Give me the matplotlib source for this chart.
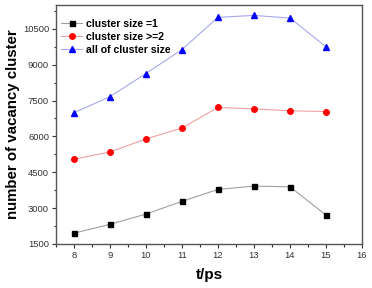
import matplotlib
matplotlib.use('Agg')
import matplotlib.pyplot as plt
from matplotlib.ticker import MultipleLocator

t_ps = [8, 9, 10, 11, 12, 13, 14, 15]
size_one = [1950, 2320, 2750, 3280, 3780, 3920, 3890, 2710]
size_two_plus = [5040, 5350, 5890, 6350, 7210, 7150, 7070, 7040]
all_sizes = [6990, 7660, 8630, 9630, 10980, 11060, 10950, 9750]

y_ticks = [1500, 3000, 4500, 6000, 7500, 9000, 10500]
x_ticks = [8, 9, 10, 11, 12, 13, 14, 15, 16]

plt.rcParams['font.family'] = ['Liberation Sans', 'DejaVu Sans']

fig = plt.figure(figsize=(3.72, 2.88), dpi=100)
ax = fig.add_axes([0.1505, 0.153, 0.8225, 0.83])

ax.plot(t_ps, size_one, color='#a0a0a0', lw=0.8, marker='s', ms=3.6,
        mfc='black', mec='black', label='cluster size =1')
ax.plot(t_ps, size_two_plus, color='#f0a0a0', lw=0.8, marker='o', ms=4,
        mfc='red', mec='red', label='cluster size >=2')
ax.plot(t_ps, all_sizes, color='#a8a8f0', lw=0.8, marker='^', ms=4.2,
        mfc='blue', mec='blue', label='all of cluster size')

ax.set_xlim(7.5, 16)
ax.set_ylim(1500, 11500)
ax.set_xticks(x_ticks)
ax.set_yticks(y_ticks)
ax.xaxis.set_minor_locator(MultipleLocator(0.5))
ax.yaxis.set_minor_locator(MultipleLocator(750))
ax.tick_params(which='major', direction='out', length=3, width=0.8,
               labelsize=6.8, pad=2, colors='#333333')
ax.tick_params(which='minor', direction='out', length=1.8, width=0.8,
               colors='#333333')
for s in ax.spines.values():
    s.set_color('#555555')
    s.set_linewidth(1.0)

ax.set_xlabel('t/ps', fontsize=11, fontweight='bold', labelpad=6)
ax.set_ylabel('number of vacancy cluster', fontsize=10.8, fontweight='bold',
              labelpad=2)

ax.legend(loc='upper left', bbox_to_anchor=(-0.028, 1.0), frameon=False,
          prop={'weight': 'bold', 'size': 7.6}, handlelength=2.0,
          handletextpad=0.4, labelspacing=0.28, borderaxespad=0.9)

fig.savefig('out.png', dpi=100)
